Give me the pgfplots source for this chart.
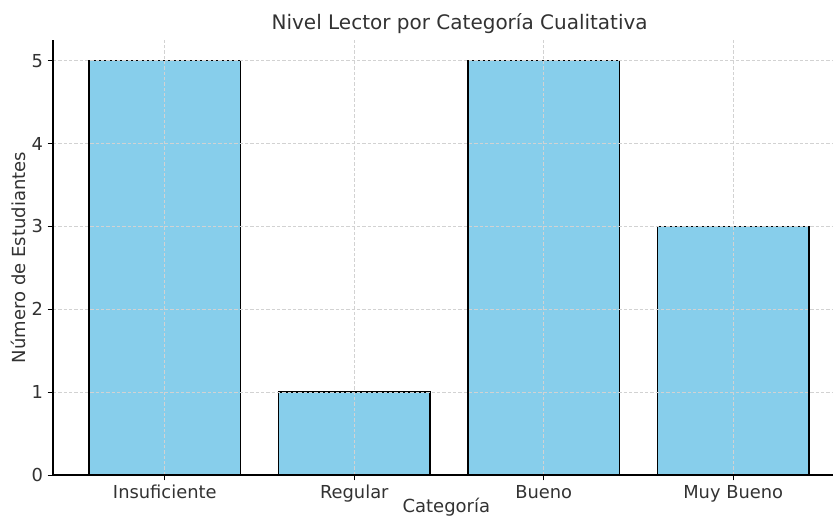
\documentclass[border=0pt]{standalone}
\usepackage{pgfplots}
\pgfplotsset{compat=1.18}
\usepackage{fontspec}
\setmainfont{DejaVu Sans}
\definecolor{skyb}{RGB}{135,206,235}
\definecolor{txt}{RGB}{50,50,50}
\begin{document}
\begin{tikzpicture}
\begin{axis}[
  scale only axis,
  width=594pt, height=326.25pt,
  xmin=-0.59, xmax=3.59,
  ymin=0, ymax=5.25,
  axis x line*=bottom, axis y line*=left,
  axis line style={black, line width=0.8pt},
  axis on top,
  xtick={0,1,2,3},
  xticklabels={Insuficiente,Regular,Bueno,Muy Bueno},
  ytick={0,1,2,3,4,5},
  tick align=outside,
  major tick length=4pt,
  tick style={black, line width=0.6pt},
  grid=major,
  major grid style={gray!35, dash pattern=on 2.5pt off 1.5pt, line width=0.5pt},
  ticklabel style={font=\fontsize{13.4pt}{15pt}\selectfont, text=txt},
  /pgf/number format/assume math mode=true,
  title={Nivel Lector por Categoría Cualitativa},
  title style={font=\fontsize{15pt}{17pt}\selectfont, text=txt, at={(rel axis cs:0.5,1)}, anchor=south, yshift=-5pt, xshift=8pt},
  xlabel={Categoría},
  ylabel={Número de Estudiantes},
  every axis x label/.style={at={(rel axis cs:0.5,0)}, anchor=north, yshift=-16.5pt, xshift=-2pt, inner sep=1pt, font=\fontsize{13.5pt}{16pt}\selectfont, text=txt},
  every axis y label/.style={at={(rel axis cs:0,0.5)}, xshift=-26pt, rotate=90, anchor=center, font=\fontsize{13.5pt}{16pt}\selectfont, text=txt},
]
\addplot[ybar, bar width=0.8, bar shift=0pt, fill=skyb, draw=black, line width=1pt]
  coordinates {(0,5) (1,1) (2,5) (3,3)};
\end{axis}
\pgfresetboundingbox
\useasboundingbox (-39.75pt,-33.75pt) rectangle (585pt,356.25pt);
\end{tikzpicture}
\end{document}
